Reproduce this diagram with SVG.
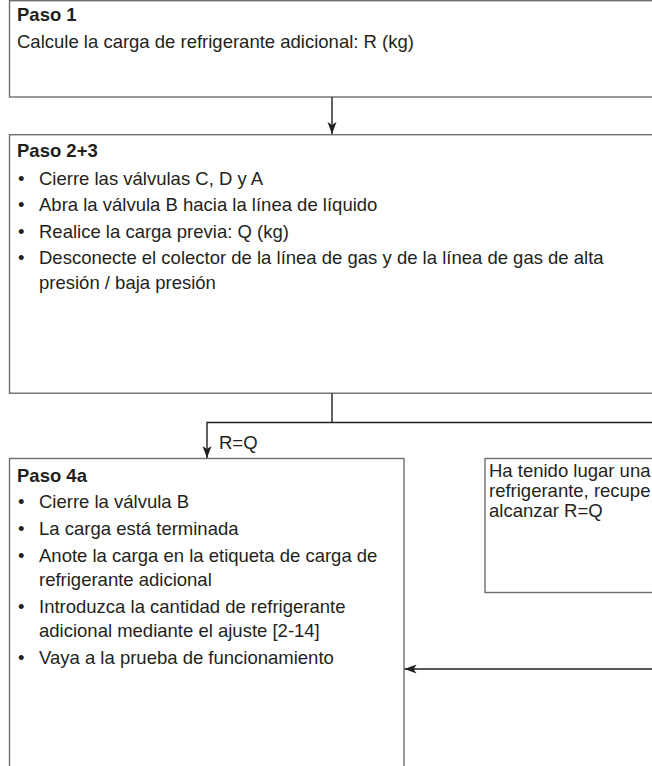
<svg xmlns="http://www.w3.org/2000/svg" width="652" height="766" viewBox="0 0 652 766">
  <style>
    .box { fill: #ffffff; stroke: #6e6e6e; stroke-width: 1.4; }
    .t { font-family: "Liberation Sans", Arial, sans-serif; font-size: 18.5px; fill: #231f20; }
    .b { font-weight: bold; }
    .con { fill: none; stroke: #231f20; stroke-width: 1.4; }
  </style>
  <defs>
    <marker id="ah" markerUnits="userSpaceOnUse" markerWidth="14" markerHeight="10" refX="12" refY="5" orient="auto">
      <path d="M0,0.5 L12,5 L0,9.5 L3,5 Z" fill="#231f20"/>
    </marker>
  </defs>
  <rect width="652" height="766" fill="#ffffff"/>

  <g id="paso1">
    <rect class="box" x="9.5" y="0.7" width="700" height="96.3"/>
    <text class="t b" x="17" y="21">Paso 1</text>
    <text class="t" x="17" y="48">Calcule la carga de refrigerante adicional: R (kg)</text>
  </g>

  <g id="paso23">
    <rect class="box" x="9.5" y="134.7" width="700" height="258.5"/>
    <text class="t b" x="17" y="157">Paso 2+3</text>
    <text class="t" x="18" y="185">•</text>
    <text class="t" x="39" y="185">Cierre las válvulas C, D y A</text>
    <text class="t" x="18" y="211">•</text>
    <text class="t" x="39" y="211">Abra la válvula B hacia la línea de líquido</text>
    <text class="t" x="18" y="238">•</text>
    <text class="t" x="39" y="238">Realice la carga previa: Q (kg)</text>
    <text class="t" x="18" y="264">•</text>
    <text class="t" x="39" y="264">Desconecte el colector de la línea de gas y de la línea de gas de alta</text>
    <text class="t" x="39" y="289">presión / baja presión</text>
  </g>

  <g id="paso4a">
    <rect class="box" x="9.5" y="458.5" width="394.5" height="330"/>
    <text class="t b" x="17" y="482">Paso 4a</text>
    <text class="t" x="18" y="508">•</text>
    <text class="t" x="39" y="508">Cierre la válvula B</text>
    <text class="t" x="18" y="535">•</text>
    <text class="t" x="39" y="535">La carga está terminada</text>
    <text class="t" x="18" y="562">•</text>
    <text class="t" x="39" y="562">Anote la carga en la etiqueta de carga de</text>
    <text class="t" x="39" y="586">refrigerante adicional</text>
    <text class="t" x="18" y="613">•</text>
    <text class="t" x="39" y="613">Introduzca la cantidad de refrigerante</text>
    <text class="t" x="39" y="637">adicional mediante el ajuste [2-14]</text>
    <text class="t" x="18" y="664">•</text>
    <text class="t" x="39" y="664">Vaya a la prueba de funcionamiento</text>
  </g>

  <g id="fuga">
    <rect class="box" x="485" y="458.5" width="300" height="134"/>
    <text class="t" x="489" y="477">Ha tenido lugar una</text>
    <text class="t" x="489" y="497">refrigerante, recupe</text>
    <text class="t" x="489" y="517">alcanzar R=Q</text>
  </g>

  <g id="connectors">
    <line class="con" x1="332" y1="97" x2="332" y2="134" marker-end="url(#ah)"/>
    <polyline class="con" points="332,393.2 332,422.5"/>
    <polyline class="con" points="660,422.5 207,422.5 207,458" marker-end="url(#ah)"/>
    <text class="t" x="219" y="449">R=Q</text>
    <line class="con" x1="660" y1="669" x2="404.5" y2="669" marker-end="url(#ah)"/>
  </g>
</svg>
